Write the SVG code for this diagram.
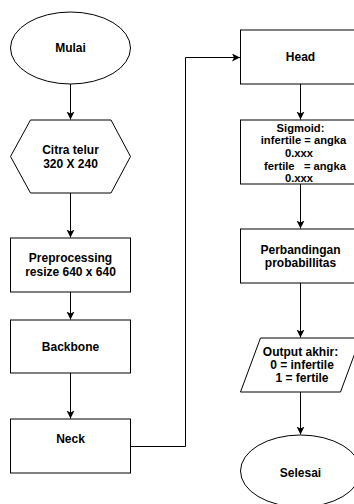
<svg xmlns="http://www.w3.org/2000/svg" width="354" height="504" viewBox="0 0 354 504">
<defs>
<marker id="arr" markerUnits="userSpaceOnUse" markerWidth="10" markerHeight="10" refX="8" refY="4" orient="auto">
<path d="M0,0 L8,4 L0,8 L2,4 Z" fill="#000"/>
</marker>
<style>
.s{fill:#fff;stroke:#000;stroke-width:1}
.t{font-family:"Liberation Sans",Arial,sans-serif;font-weight:bold;font-size:12px;fill:#000;text-anchor:middle}
.sm{font-size:11.2px}
.c{fill:none;stroke:#000;stroke-width:1;marker-end:url(#arr)}
</style>
</defs>
<rect width="354" height="504" fill="#fff"/>
<g id="connectors">
<path class="c" d="M70.5,84 V119.5"/>
<path class="c" d="M70.5,193 V237.5"/>
<path class="c" d="M70.5,292 V319.5"/>
<path class="c" d="M70.5,373 V418.5"/>
<path class="c" d="M130.5,446.5 H185.5 V57.5 H240"/>
<path class="c" d="M300.5,84 V119.5"/>
<path class="c" d="M300.5,184 V228.5"/>
<path class="c" d="M300.5,283 V337.5"/>
<path class="c" d="M300.5,392 V434.5"/>
</g>
<g id="mulai">
<ellipse class="s" cx="70.5" cy="48" rx="60" ry="36"/>
<text class="t" x="70.5" y="52">Mulai</text>
</g>
<g id="citra">
<polygon class="s" points="30.5,120 111,120 130.5,156.5 111,193 30.5,193 10.5,156.5"/>
<text class="t" x="70.5" y="154">Citra telur</text>
<text class="t" x="70.5" y="168">320 X 240</text>
</g>
<g id="preprocessing">
<rect class="s" x="10.5" y="238" width="120" height="54"/>
<text class="t" x="70.5" y="262">Preprocessing</text>
<text class="t" x="70.5" y="276">resize 640 x 640</text>
</g>
<g id="backbone">
<rect class="s" x="10.5" y="320" width="120" height="53"/>
<text class="t" x="70.5" y="351">Backbone</text>
</g>
<g id="neck">
<rect class="s" x="10.5" y="419" width="120" height="54"/>
<text class="t" x="70.5" y="443">Neck</text>
</g>
<g id="head">
<rect class="s" x="240.5" y="30" width="120" height="54"/>
<text class="t" x="300.5" y="61">Head</text>
</g>
<g id="sigmoid">
<rect class="s" x="240.5" y="120" width="120" height="64"/>
<text class="t sm" x="300.5" y="131.5">Sigmoid:</text>
<text class="t sm" x="303.5" y="144">infertile = angka</text>
<text class="t sm" x="299" y="156.6">0.xxx</text>
<text class="t sm" x="305" y="169.5" xml:space="preserve">fertile   = angka</text>
<text class="t sm" x="299" y="182">0.xxx</text>
</g>
<g id="perbandingan">
<rect class="s" x="240.5" y="229" width="120" height="54"/>
<text class="t" x="300.5" y="254">Perbandingan</text>
<text class="t" x="300.5" y="267">probabillitas</text>
</g>
<g id="output">
<polygon class="s" points="260.5,338 360.5,338 340.5,392 240.5,392"/>
<text class="t" x="300.5" y="356">Output akhir:</text>
<text class="t" x="302" y="369">0 = infertile</text>
<text class="t" x="302" y="382">1 = fertile</text>
</g>
<g id="selesai">
<ellipse class="s" cx="300.5" cy="471" rx="60" ry="36"/>
<text class="t" x="300.5" y="477">Selesai</text>
</g>
</svg>
